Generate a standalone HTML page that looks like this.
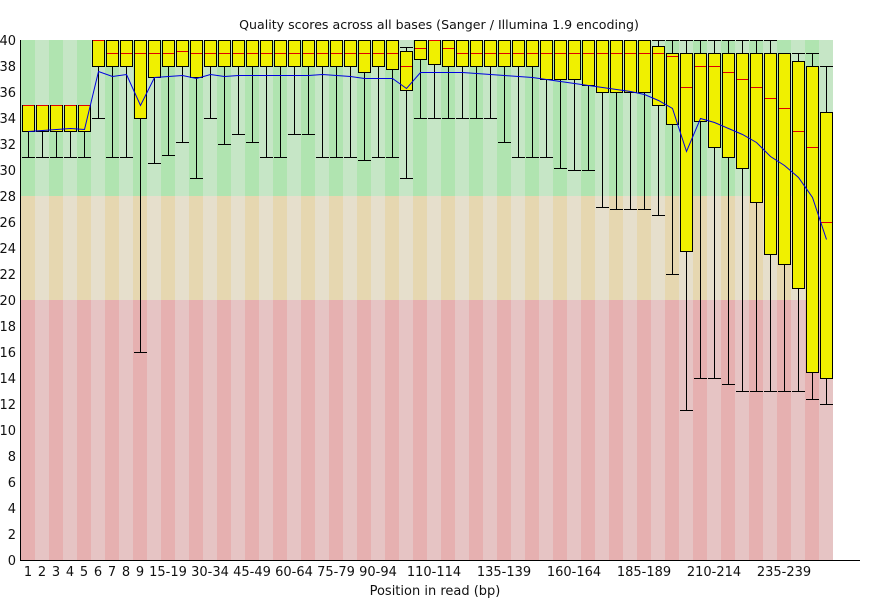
<!DOCTYPE html>
<html><head><meta charset="utf-8">
<style>
html,body{margin:0;padding:0;background:#fff;width:870px;height:600px;overflow:hidden}
svg text{font-family:"DejaVu Sans","Liberation Sans",sans-serif;font-size:13px;fill:#111}
</style></head>
<body>
<svg id="c" width="870" height="600" xmlns="http://www.w3.org/2000/svg"></svg>
<script>
const d=[
[105,131,105,105,157,131],[105,131,105,105,157,130],[105,131,105,105,157,129],[105,131,105,105,157,128],[105,131,105,105,157,129],
[40,66,40,40,118,71],[40,66,53,40,157,76],[40,66,53,40,157,74],[40,118,53,40,352,105],[40,77,53,40,163,77],
[40,66,53,40,155,76],[40,66,51,40,142,75],[40,77,53,40,178,78],[40,66,53,40,118,74],[40,66,53,40,144,76],
[40,66,53,40,134,75],[40,66,53,40,142,75],[40,66,53,40,157,75],[40,66,53,40,157,75],[40,66,53,40,134,75],
[40,66,53,40,134,75],[40,66,53,40,157,74],[40,66,53,40,157,75],[40,66,53,40,157,76],[40,72,53,40,160,78],
[40,66,53,40,157,78],[40,69,53,40,157,78],[51,90,66,47,178,88],[40,59,48,40,118,72],[40,64,40,40,118,72],
[40,66,48,40,118,72],[40,66,53,40,118,72],[40,66,53,40,118,73],[40,66,53,40,118,74],[40,66,53,40,142,75],
[40,66,53,40,157,76],[40,66,53,40,157,77],[40,79,53,40,157,79],[40,79,53,40,168,81],[40,79,53,40,170,83],
[40,85,53,40,170,85],[40,92,53,40,207,87],[40,92,53,40,209,89],[40,92,53,40,209,91],[40,92,53,40,209,94],
[46,105,53,40,215,100],[53,124,56,40,274,108],[53,251,87,40,410,151],[53,121,66,40,378,118],[53,147,66,40,378,122],
[53,157,72,40,384,128],[53,168,79,40,391,134],[53,202,87,40,391,142],[53,254,98,40,391,156],[53,264,108,53,391,165],
[61,288,131,53,391,177],[66,372,147,53,399,197],[112,378,222,66,404,239]];
let s='';
const bands=[[40,156,'#b0e4b0','#c6e6c6'],[196,104,'#e6d7b0','#e6dfcc'],[300,260,'#e6b0b0','#e6c4c4']];
for(let i=0;i<58;i++){const x=21+14*i;for(const b of bands){s+=`<rect x="${x}" y="${b[0]}" width="14" height="${b[1]}" fill="${i%2?b[3]:b[2]}"/>`;}}
for(let i=0;i<58;i++){const x=21+14*i,c=x+7.5,[t,b,m,wt,wl]=d[i];
s+=`<line x1="${c}" y1="${b}" x2="${c}" y2="${wl}" stroke="#000"/><line x1="${x+1}" y1="${wl+0.5}" x2="${x+14}" y2="${wl+0.5}" stroke="#000"/>`;
if(wt<t)s+=`<line x1="${c}" y1="${wt}" x2="${c}" y2="${t}" stroke="#000"/><line x1="${x+1}" y1="${wt+0.5}" x2="${x+14}" y2="${wt+0.5}" stroke="#000"/>`;
s+=`<rect x="${x+1.5}" y="${t+0.5}" width="12" height="${b-t}" fill="#f0f000" stroke="#000"/>`;
s+=`<line x1="${x+2}" y1="${m+0.5}" x2="${x+13}" y2="${m+0.5}" stroke="#e00000"/>`;}
s+=`<polyline fill="none" stroke="#0000e0" stroke-width="1" points="${d.map((r,i)=>(28.5+14*i)+','+(r[5]+0.5)).join(' ')}"/>`;
s+=`<line x1="20.5" y1="40" x2="20.5" y2="560" stroke="#000"/><line x1="20" y1="560.5" x2="860" y2="560.5" stroke="#000"/>`;
for(let v=0;v<=40;v+=2){s+=`<text x="16" y="${560-13*v+5}" text-anchor="end">${v}</text>`;}
const lab={0:'1',1:'2',2:'3',3:'4',4:'5',5:'6',6:'7',7:'8',8:'9',10:'15-19',13:'30-34',16:'45-49',19:'60-64',22:'75-79',25:'90-94',29:'110-114',34:'135-139',39:'160-164',44:'185-189',49:'210-214',54:'235-239'};
for(const k in lab){s+=`<text x="${28+14*k}" y="576" text-anchor="middle">${lab[k]}</text>`;}
s+=`<text x="439" y="29" text-anchor="middle" style="font-size:12.6px">Quality scores across all bases (Sanger / Illumina 1.9 encoding)</text>`;
s+=`<text x="435" y="595" text-anchor="middle">Position in read (bp)</text>`;
document.getElementById('c').innerHTML=s;
</script>
</body></html>
